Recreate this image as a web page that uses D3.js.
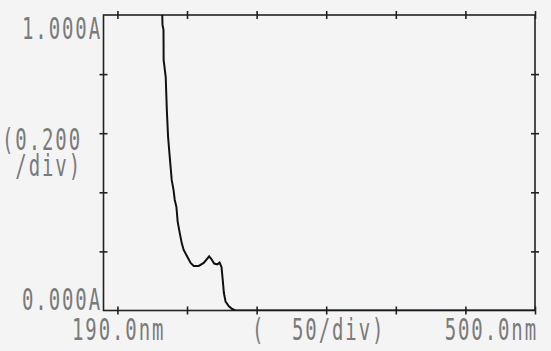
<!DOCTYPE html>
<html>
<head>
<meta charset="utf-8">
<script src="https://cdn.jsdelivr.net/npm/d3@7"></script>
<style>
	body { margin: 0; background: #f4f4f4; }
	svg { display: block; }
	.label { font-family: 'DejaVu Sans Mono', monospace; font-size: 19px; letter-spacing: 1.9px; fill: #7a7a7a; }
</style>
</head>
<body>
<svg id="chart" width="551" height="351"></svg>
<script>
// spectrum (nm, absorbance)
const wavelength = [232.2, 232.4, 233.1, 233.2, 234.7, 235.5, 236.4, 237.6, 239.0, 240.3, 241.2, 242.4, 243.3, 244.8,
	246.2, 247.6, 250.3, 252.6, 254.8, 258.4, 262.0, 265.9, 267.5, 269.5, 271.8, 273.4, 274.8, 275.8, 276.5, 277.7,
	280.1, 282.5, 284.9, 500.0];
const absorbance = [1.00, 0.966, 0.95, 0.848, 0.790, 0.678, 0.587, 0.519, 0.442, 0.408, 0.374, 0.350, 0.300, 0.262,
	0.228, 0.205, 0.181, 0.161, 0.151, 0.151, 0.161, 0.183, 0.174, 0.159, 0.156, 0.162, 0.147, 0.096, 0.059, 0.030,
	0.014, 0.005, 0.0, 0.0];

const xDomain = [190, 500];
const yDomain = [0, 1];
const xTicks = [200, 250, 300, 350, 400, 450, 500];
const yTicks = [0.2, 0.4, 0.6, 0.8];
const yLabels = ['1.000A', '(0.200', ' /div)', '0.000A'];
const xLabels = ['190.0nm', '(  50/div)', '500.0nm'];

const svg = d3.select('#chart');
const x = d3.scaleLinear().domain(xDomain).range([103.5, 535]);
const y = d3.scaleLinear().domain(yDomain).range([310.5, 15]);

svg.append('defs').append('clipPath')
	.attr('id', 'plotClip')
	.append('rect')
	.attr('x', x(190))
	.attr('y', y(1))
	.attr('width', x(500) - x(190))
	.attr('height', y(0) - y(1));

// axes on all four sides, ticks crossing the frame
function crossTicks(g, horizontal) {
	g.select('.domain').remove();
	g.selectAll('.tick line')
		.attr('stroke', '#222')
		.attr('stroke-width', 1.6)
		.attr(horizontal ? 'y1' : 'x1', -4)
		.attr(horizontal ? 'y2' : 'x2', 4);
	g.selectAll('.tick text').remove();
}
svg.append('g').attr('transform', `translate(0,${y(0)})`)
	.call(d3.axisBottom(x).tickValues(xTicks).tickSize(4))
	.call((g) => crossTicks(g, true));
svg.append('g').attr('transform', `translate(0,${y(1)})`)
	.call(d3.axisTop(x).tickValues(xTicks).tickSize(4))
	.call((g) => crossTicks(g, true));
svg.append('g').attr('transform', `translate(${x(190)},0)`)
	.call(d3.axisLeft(y).tickValues(yTicks).tickSize(4))
	.call((g) => crossTicks(g, false));
svg.append('g').attr('transform', `translate(${x(500)},0)`)
	.call(d3.axisRight(y).tickValues(yTicks).tickSize(4))
	.call((g) => crossTicks(g, false));

svg.append('rect')
	.attr('x', x(190))
	.attr('y', y(1))
	.attr('width', x(500) - x(190))
	.attr('height', y(0) - y(1))
	.attr('fill', 'none')
	.attr('stroke', '#222')
	.attr('stroke-width', 1.6);

const line = d3.line()
	.x((d, i) => x(wavelength[i]))
	.y((d) => y(d));
svg.append('path')
	.datum(absorbance)
	.attr('clip-path', 'url(#plotClip)')
	.attr('d', line)
	.attr('fill', 'none')
	.attr('stroke', '#111')
	.attr('stroke-width', 2);

// printer-style labels: narrow, tall monospace
const yStretch = 1.55;
function label(lines, px, py, anchor) {
	const t = svg.append('text')
		.attr('class', 'label')
		.attr('text-anchor', anchor)
		.attr('transform', `translate(${px},${py}) scale(1,${yStretch})`)
		.attr('xml:space', 'preserve')
		.style('white-space', 'pre');
	lines.forEach((s, i) => {
		t.append('tspan')
			.attr('x', 0)
			.attr('y', i * 26 / yStretch)
			.text(s);
	});
}
label([yLabels[0]], 102, 39, 'end');
label([yLabels[1], yLabels[2]], 82, 150, 'end');
label([yLabels[3]], 102, 310, 'end');
label([xLabels[0]], 72, 340, 'start');
label([xLabels[1]], 252, 340, 'start');
label([xLabels[2]], 538, 340, 'end');
</script>
</body>
</html>
